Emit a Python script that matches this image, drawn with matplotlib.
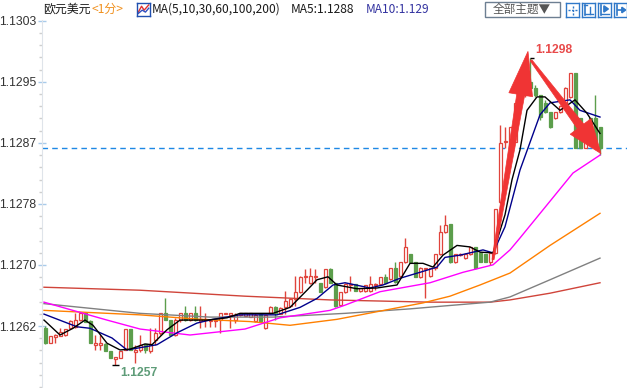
import matplotlib
matplotlib.use('Agg')
import matplotlib.pyplot as plt
from matplotlib.patches import Rectangle, Polygon
from matplotlib.transforms import IdentityTransform
import numpy as np

# ---------------- data ----------------
opens = [
    1.12617, 1.12597, 1.12605, 1.12607, 1.12608, 1.12617, 1.12619, 1.12628, 1.12637, 1.12627,
    1.12595, 1.12595, 1.12596, 1.12587, 1.12576, 1.12577, 1.12588, 1.12616, 1.12585, 1.12588,
    1.12596, 1.12587, 1.12601, 1.12611, 1.12637, 1.12628, 1.12608, 1.12628, 1.12637, 1.12628,
    1.12637, 1.12627, 1.12628, 1.12627, 1.12627, 1.12628, 1.12636, 1.12635, 1.12628, 1.12635,
    1.12633, 1.12632, 1.12627, 1.12636, 1.12617, 1.12637, 1.12645, 1.12636, 1.12645, 1.12647,
    1.12656, 1.12666, 1.12686, 1.12678, 1.12686, 1.12678, 1.12672, 1.12696, 1.12678, 1.12648,
    1.12666, 1.12675, 1.12676, 1.12667, 1.12667, 1.12667, 1.12675, 1.12676, 1.12686, 1.12683,
    1.12698, 1.12687, 1.12706, 1.12716, 1.12706, 1.12686, 1.12696, 1.12687, 1.12698, 1.12716,
    1.12746, 1.12757, 1.12706, 1.12715, 1.12711, 1.12716, 1.12726, 1.12718, 1.12716, 1.12706,
    1.12718, 1.12786, 1.12866, 1.12858, 1.12866, 1.12919, 1.12929, 1.12947, 1.12939, 1.12929,
    1.12919, 1.12907, 1.12899, 1.12907, 1.12919, 1.12927, 1.12959, 1.12899, 1.12858, 1.12899,
    1.12899, 1.12887]
closes = [
    1.12597, 1.12607, 1.12608, 1.12612, 1.12616, 1.12627, 1.12628, 1.12637, 1.12625, 1.12597,
    1.12597, 1.12597, 1.12587, 1.12577, 1.12578, 1.12587, 1.12616, 1.12588, 1.12588, 1.12595,
    1.12588, 1.12596, 1.12611, 1.12637, 1.12628, 1.12608, 1.12628, 1.12637, 1.12628, 1.12637,
    1.12628, 1.12629, 1.12629, 1.12628, 1.12628, 1.12637, 1.12637, 1.12637, 1.12635, 1.12637,
    1.12637, 1.12637, 1.12635, 1.12627, 1.12635, 1.12645, 1.12637, 1.12644, 1.12654, 1.12656,
    1.12666, 1.12686, 1.12687, 1.12687, 1.12687, 1.12666, 1.12696, 1.12678, 1.12647, 1.12666,
    1.12676, 1.12676, 1.12667, 1.12671, 1.12675, 1.12676, 1.12676, 1.12686, 1.12678, 1.12698,
    1.12679, 1.12706, 1.12726, 1.12706, 1.12686, 1.12698, 1.12698, 1.12698, 1.12716, 1.12746,
    1.12755, 1.12706, 1.12716, 1.12716, 1.12716, 1.12726, 1.12698, 1.12706, 1.12706, 1.12718,
    1.12777, 1.12865, 1.12868, 1.12887, 1.12919, 1.12939, 1.12949, 1.12939, 1.12929, 1.12900,
    1.12907, 1.12887, 1.12907, 1.12915, 1.12939, 1.12959, 1.12858, 1.12858, 1.12872, 1.12872,
    1.12858, 1.12858]
highs = [
    1.12620, 1.12607, 1.12609, 1.12617, 1.12616, 1.12628, 1.12637, 1.12639, 1.12637, 1.12628,
    1.12608, 1.12608, 1.12597, 1.12587, 1.12578, 1.12587, 1.12616, 1.12616, 1.12595, 1.12608,
    1.12596, 1.12617, 1.12617, 1.12637, 1.12657, 1.12628, 1.12631, 1.12637, 1.12647, 1.12637,
    1.12647, 1.12647, 1.12637, 1.12628, 1.12628, 1.12637, 1.12637, 1.12637, 1.12637, 1.12637,
    1.12637, 1.12637, 1.12637, 1.12636, 1.12635, 1.12647, 1.12647, 1.12645, 1.12667, 1.12657,
    1.12687, 1.12687, 1.12696, 1.12698, 1.12696, 1.12678, 1.12696, 1.12698, 1.12678, 1.12666,
    1.12678, 1.12687, 1.12676, 1.12671, 1.12675, 1.12687, 1.12678, 1.12686, 1.12690, 1.12698,
    1.12706, 1.12706, 1.12738, 1.12716, 1.12706, 1.12699, 1.12698, 1.12698, 1.12716, 1.12755,
    1.12769, 1.12757, 1.12716, 1.12718, 1.12718, 1.12726, 1.12726, 1.12719, 1.12716, 1.12718,
    1.12777, 1.12889, 1.12887, 1.12887, 1.12919, 1.12943, 1.12956, 1.12979, 1.12943, 1.12929,
    1.12923, 1.12907, 1.12907, 1.12916, 1.12940, 1.12959, 1.12959, 1.12899, 1.12873, 1.12899,
    1.12929, 1.12887]
lows = [
    1.12596, 1.12597, 1.12597, 1.12607, 1.12607, 1.12616, 1.12617, 1.12627, 1.12625, 1.12597,
    1.12588, 1.12588, 1.12587, 1.12577, 1.12568, 1.12577, 1.12588, 1.12588, 1.12570, 1.12585,
    1.12584, 1.12584, 1.12595, 1.12608, 1.12628, 1.12607, 1.12607, 1.12625, 1.12627, 1.12627,
    1.12627, 1.12617, 1.12619, 1.12619, 1.12619, 1.12611, 1.12636, 1.12617, 1.12624, 1.12633,
    1.12633, 1.12632, 1.12625, 1.12627, 1.12616, 1.12636, 1.12628, 1.12636, 1.12636, 1.12645,
    1.12647, 1.12664, 1.12678, 1.12676, 1.12678, 1.12666, 1.12671, 1.12678, 1.12645, 1.12647,
    1.12664, 1.12667, 1.12667, 1.12666, 1.12666, 1.12666, 1.12668, 1.12675, 1.12676, 1.12682,
    1.12678, 1.12686, 1.12704, 1.12704, 1.12686, 1.12684, 1.12657, 1.12686, 1.12695, 1.12715,
    1.12745, 1.12704, 1.12704, 1.12714, 1.12710, 1.12715, 1.12696, 1.12706, 1.12706, 1.12702,
    1.12716, 1.12785, 1.12858, 1.12858, 1.12866, 1.12916, 1.12927, 1.12936, 1.12927, 1.12896,
    1.12905, 1.12885, 1.12897, 1.12905, 1.12917, 1.12925, 1.12858, 1.12858, 1.12858, 1.12872,
    1.12858, 1.12849]

# moving-average lines (candle index, value)
ma5_t = [-0.2, 3, 5.6, 8, 9.6, 12.4, 15, 17, 20, 21.4, 24.4, 27, 32.4, 36.4, 39, 45.6, 49, 52.4,
         54.4, 56.6, 58.4, 62.4, 66.4, 70.4, 73, 75.6, 77.6, 79.6, 82.4, 85, 87, 89.6, 92, 93.4,
         95, 96.4, 98.4, 100, 103, 106, 108.4, 111]
ma5_v = [1.12628, 1.12608, 1.12617, 1.12628, 1.12621, 1.12597, 1.12588, 1.12589, 1.12596, 1.12595,
         1.12615, 1.12628, 1.12628, 1.12631, 1.12637, 1.12637, 1.12645, 1.12668, 1.12682, 1.12686,
         1.12675, 1.12670, 1.12671, 1.12675, 1.12704, 1.12704, 1.12699, 1.12715, 1.12728, 1.12726,
         1.12719, 1.12718, 1.12769, 1.12816, 1.12856, 1.12909, 1.12927, 1.12927, 1.12909, 1.12923,
         1.12905, 1.12878]
ma10_t = [-0.2, 6.4, 9, 13.4, 16.4, 19, 22.4, 26.4, 30.4, 33.6, 39, 46.4, 51, 54.4, 57.6, 60, 65,
          67.6, 71, 75, 78.4, 80, 83, 87.6, 89.6, 92, 95, 99, 101, 105, 107, 111]
ma10_v = [1.12636, 1.12619, 1.12617, 1.12604, 1.12588, 1.12591, 1.12595, 1.12611, 1.12624, 1.12629,
          1.12635, 1.12635, 1.12645, 1.12657, 1.12675, 1.12678, 1.12671, 1.12675, 1.12684, 1.12692,
          1.12699, 1.12712, 1.12715, 1.12722, 1.12718, 1.12753, 1.12829, 1.12903, 1.12919, 1.12923,
          1.12909, 1.12900]
ma30_t = [-0.2, 12.4, 19, 29, 40, 47, 57, 60, 67, 77, 83.6, 89.6, 93, 95, 100, 105.6, 111]
ma30_v = [1.12652, 1.12628, 1.12616, 1.12608, 1.12616, 1.12631, 1.12641, 1.12648, 1.12666, 1.12678,
          1.12692, 1.12702, 1.12722, 1.12738, 1.12779, 1.12825, 1.12849]
ma60_t = [-0.2, 19, 31, 41, 49, 58.4, 67, 75.6, 81, 87, 93, 101, 111]
ma60_v = [1.12641, 1.12635, 1.12629, 1.12626, 1.12621, 1.12629, 1.12640, 1.12651, 1.12660, 1.12675,
          1.12691, 1.12728, 1.12771]
ma100_t = [-0.2, 19, 33, 45.6, 60, 73, 80, 89, 93, 101, 111]
ma100_v = [1.12650, 1.12637, 1.12632, 1.12632, 1.12637, 1.12643, 1.12647, 1.12652, 1.12659, 1.12682,
           1.12711]
ma200_t = [-0.2, 19, 40, 57, 77, 89, 93, 101, 111]
ma200_v = [1.12672, 1.12668, 1.12660, 1.12655, 1.12652, 1.12652, 1.12655, 1.12664, 1.12678]

ytick_vals = [1.12620, 1.127018, 1.127836, 1.128654, 1.129472, 1.13029]
ytick_labels = ["1.1262", "1.1270", "1.1278", "1.1287", "1.1295", "1.1303"]

# ---------------- figure ----------------
W, H = 627, 388
fig = plt.figure(figsize=(W / 100, H / 100), dpi=100)
fig.patch.set_facecolor('white')
ax = fig.add_axes([42 / W, 0, 1 - 42 / W, 368 / H])

RED = '#e0443c'
GREEN = '#5c9e4c'

o = np.array(opens); c = np.array(closes); h = np.array(highs); l = np.array(lows)
n = len(o)
x = np.arange(n)
up = c >= o
top = np.maximum(o, c)
bot = np.minimum(o, c)
cols = np.where(up, RED, GREEN)

ax.vlines(x, top, h, colors=cols, linewidth=1.0, zorder=2)
ax.vlines(x, l, bot, colors=cols, linewidth=1.0, zorder=2)
ax.bar(x[up], (top - bot)[up], bottom=bot[up], width=0.6, facecolor='white',
       edgecolor=RED, linewidth=0.9, zorder=2.5)
ax.bar(x[~up], (top - bot)[~up], bottom=bot[~up], width=0.6, facecolor=GREEN,
       edgecolor=GREEN, linewidth=0.9, zorder=2.5)

ax.plot(ma200_t, ma200_v, color='#d0443a', lw=1.0, zorder=3)
ax.plot(ma100_t, ma100_v, color='#808080', lw=1.0, zorder=3)
ax.plot(ma60_t, ma60_v, color='#ff8000', lw=1.0, zorder=3)
ax.plot(ma30_t, ma30_v, color='#ff00ff', lw=1.0, zorder=3)
ax.plot(ma10_t, ma10_v, color='#00008b', lw=1.0, zorder=3)
ax.plot(ma5_t, ma5_v, color='#000000', lw=1.0, zorder=3)

# current price line
ax.axhline(closes[-1], color='#1e88e5', lw=1.0, ls=(0, (4, 3)), zorder=1.5)

ax.set_xlim(-0.6, 116.4)
ax.set_ylim(1.12537, 1.13030)

for s in ['top', 'right', 'bottom']:
    ax.spines[s].set_visible(False)
ax.spines['left'].set_color('#dfe4ea')
ax.xaxis.set_visible(False)
ax.set_yticks(ytick_vals)
ax.set_yticklabels(ytick_labels)
minor = []
for i in range(len(ytick_vals) - 1):
    step = (ytick_vals[i + 1] - ytick_vals[i]) / 5
    minor += [ytick_vals[i] + k * step for k in range(1, 5)]
minor += [ytick_vals[0] - k * (ytick_vals[1] - ytick_vals[0]) / 5 for k in range(1, 6)]
ax.set_yticks(minor, minor=True)
ax.tick_params(axis='y', which='major', direction='inout', length=6, width=1,
               color='#a9cbea', labelsize=8.7, labelcolor='#333333', pad=1)
ax.tick_params(axis='y', which='minor', direction='out', length=2.5, width=1, color='#cfcfcf')
for t in ax.get_yticklabels():
    t.set_fontfamily('Liberation Sans')

# high / low marks
pk = int(np.argmax(h))
lo = int(np.argmin(l))
ax.hlines(h[pk], pk, pk + 0.8, color='black', lw=1, zorder=4)
ax.hlines(l[lo], lo - 0.6, lo + 0.8, color='black', lw=1, zorder=4)
ax.annotate("1.1298", xy=(pk, h[pk]), xytext=(5, 8), textcoords='offset pixels',
            ha='left', va='center', color='#e84a4a', fontsize=8.7, fontweight='bold',
            family='Liberation Sans', zorder=6)
ax.annotate("1.1257", xy=(lo, l[lo]), xytext=(5, -8), textcoords='offset pixels',
            ha='left', va='center', color='#5e9c78', fontsize=8.7, fontweight='bold',
            family='Liberation Sans', zorder=6)

# red hand-drawn style arrows (tapered shaft + large head), built in pixel space
ARROW = '#f03434'


def big_arrow(tail, tip, head_len, head_w, w0, w1):
    p0 = ax.transData.transform(tail)
    p1 = ax.transData.transform(tip)
    d = p1 - p0
    u = d / np.hypot(*d)
    v = np.array([-u[1], u[0]])
    base = p1 - u * head_len
    pts = [p0 + v * w0 / 2, base + v * w1 / 2, base + v * head_w / 2, p1,
           base - v * head_w / 2, base - v * w1 / 2, p0 - v * w0 / 2]
    ax.add_patch(Polygon(pts, closed=True, transform=IdentityTransform(),
                         facecolor=ARROW, edgecolor=ARROW, lw=0.5, zorder=5))


big_arrow((89.6, o[90] - 0.00009), (pk - 0.4, h[pk] + 0.00009), 44, 24, 2, 8)
big_arrow((pk + 0.2, h[pk] - 0.00003), (n - 1 + 0.2, c[-1] - 0.00007), 34, 26, 2, 8)

# ---------------- header ----------------
CJK = ['Noto Sans CJK SC', 'DejaVu Sans']


def ftext(xp, s, color, size=8.6, ha='left'):
    fig.text(xp / W, 1 - 9.5 / H, s, color=color, fontsize=size, ha=ha, va='center', family=CJK)


ftext(43, "欧元美元", '#1a1a1a')
ftext(92, "<1分>", '#f0901e')
ftext(152, "MA(5,10,30,60,100,200)", '#1a1a1a')
ftext(291, "MA5:1.1288", '#1a1a1a')
ftext(366, "MA10:1.129", '#3333a0')

# small MA icon
ic = fig.add_axes([137 / W, 1 - 16 / H, 13 / W, 13 / H])
ic.set_xlim(0, 1); ic.set_ylim(0, 1)
ic.set_xticks([]); ic.set_yticks([])
for s in ic.spines.values():
    s.set_color('#2050b0'); s.set_linewidth(1)
ic.plot([0.1, 0.35, 0.55, 0.9], [0.3, 0.75, 0.45, 0.85], color='#e03030', lw=1)
ic.plot([0.1, 0.4, 0.65, 0.9], [0.2, 0.45, 0.3, 0.6], color='#3050c0', lw=1)

# button
fig.patches.append(Rectangle((485 / W, 1 - 17 / H), 75 / W, 15 / H, transform=fig.transFigure,
                             facecolor='white', edgecolor='#6d7f92', lw=1))
fig.text(522 / W, 1 - 9.5 / H, "全部主题▼", color='#555555', fontsize=8.4, ha='center',
         va='center', family=CJK)

# four tool icons
for k, xi in enumerate([566, 582, 598, 614]):
    a = fig.add_axes([xi / W, 1 - 17 / H, 13 / W, 14 / H])
    a.set_xlim(0, 1); a.set_ylim(0, 1)
    a.set_xticks([]); a.set_yticks([])
    for s in a.spines.values():
        s.set_color('#2f78c8'); s.set_linewidth(1)
    col = '#2f78c8'
    if k == 0:
        a.plot([0.5, 0.5], [0.15, 0.85], color=col, lw=1, ls=(0, (1.5, 1)))
        a.plot([0.15, 0.85], [0.5, 0.5], color=col, lw=1, ls=(0, (1.5, 1)))
    elif k == 1:
        a.plot([0.25, 0.25], [0.15, 0.85], color=col, lw=1.2)
        a.plot([0.15, 0.35], [0.85, 0.85], color=col, lw=1)
        a.plot([0.25, 0.85], [0.2, 0.2], color=col, lw=1)
        a.plot([0.6, 0.6], [0.2, 0.75], color=col, lw=1)
    elif k == 2:
        a.plot([0.25, 0.25], [0.15, 0.85], color=col, lw=1.2)
        a.plot([0.25, 0.85], [0.2, 0.2], color=col, lw=1)
        a.fill([0.45, 0.45, 0.8], [0.35, 0.8, 0.575], color=col)
    else:
        a.plot([0.25, 0.25], [0.15, 0.85], color=col, lw=1.2)
        a.plot([0.3, 0.8], [0.5, 0.5], color=col, lw=1.2)
        a.fill([0.6, 0.6, 0.9], [0.3, 0.7, 0.5], color=col)

fig.savefig('out.png', dpi=100, facecolor='white')
